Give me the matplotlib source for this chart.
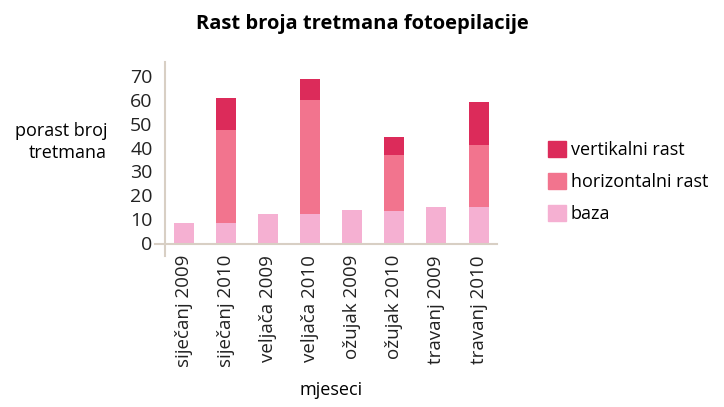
import matplotlib.pyplot as plt
from matplotlib.patches import Patch

plt.rcParams['font.family'] = ['Open Sans', 'DejaVu Sans']

months = ['siječanj 2009', 'siječanj 2010', 'veljača 2009', 'veljača 2010',
          'ožujak 2009', 'ožujak 2010', 'travanj 2009', 'travanj 2010']
baza = [8.5, 8.5, 12, 12, 14, 13.5, 15, 15]
horizontalni = [0, 39, 0, 48, 0, 23.5, 0, 26]
vertikalni = [0, 13.5, 0, 9, 0, 7.5, 0, 18]

c_baza = '#f5b0d2'
c_hor = '#f2748e'
c_vert = '#dc2b5a'
spine_col = '#d8cfc4'

fig = plt.figure(figsize=(7.24, 4.07), dpi=100)
ax = fig.add_axes([0.228, 0.4005, 0.458, 0.447])

x = range(len(months))
w = 0.475
ax.bar(x, baza, w, color=c_baza)
ax.bar(x, horizontalni, w, bottom=baza, color=c_hor)
tops = [b + h for b, h in zip(baza, horizontalni)]
ax.bar(x, vertikalni, w, bottom=tops, color=c_vert)

ax.set_xlim(-0.45, 7.43)
ax.set_ylim(-0.5, 76)
ax.set_yticks(range(0, 71, 10))
ax.set_xticks(list(x))
ax.set_xticklabels(months, rotation=90, fontsize=13.5)
ax.tick_params(axis='both', length=0, colors='#222222')
ax.tick_params(axis='y', pad=9, labelsize=14)
ax.tick_params(axis='x', pad=8)

for s in ax.spines.values():
    s.set_visible(False)
# axis lines that run past each other at the corner
ax.plot([0, 0], [-0.065, 1], transform=ax.transAxes, color=spine_col, lw=1.5, clip_on=False)
ax.plot([-0.03, 1], [0, 0], transform=ax.transAxes, color=spine_col, lw=1.5, clip_on=False)

ax.set_xlabel('mjeseci', fontsize=13, labelpad=10)
fig.text(0.148, 0.651, 'porast broj\ntretmana', ha='right', va='center',
         fontsize=13, linespacing=1.25)

fig.text(0.5, 0.942, 'Rast broja tretmana fotoepilacije', ha='center', va='center',
         fontsize=14.5, fontweight='bold')

handles = [Patch(color=c_vert, label='vertikalni rast'),
           Patch(color=c_hor, label='horizontalni rast'),
           Patch(color=c_baza, label='baza')]
fig.legend(handles=handles, loc='center left', bbox_to_anchor=(0.735, 0.553),
           frameon=False, fontsize=13, handlelength=1.0, handleheight=1.0,
           handletextpad=0.25, labelspacing=0.75)

fig.savefig('out.png', dpi=100)
